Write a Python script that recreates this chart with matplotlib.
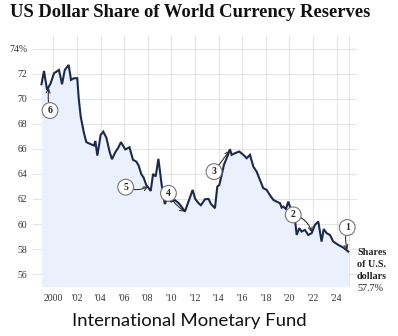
import matplotlib
matplotlib.use("Agg")
import matplotlib.pyplot as plt

# ---- data ----
years = [1999.0, 1999.21, 1999.47, 1999.78, 2000.06, 2000.48, 2000.74, 2000.97, 2001.30, 2001.50,
         2001.75, 2002.03, 2002.15, 2002.32, 2002.60, 2002.80, 2003.17, 2003.45, 2003.56, 2003.73,
         2004.01, 2004.23, 2004.49, 2004.78, 2004.97, 2005.25, 2005.48, 2005.73, 2006.10, 2006.45,
         2006.75, 2007.03, 2007.23, 2007.45, 2007.65, 2007.87, 2008.08, 2008.25, 2008.45, 2008.67,
         2008.90, 2009.18, 2009.44, 2009.60, 2010.00, 2010.30, 2010.58, 2010.80, 2011.15, 2011.52,
         2011.80, 2012.02, 2012.30, 2012.50, 2012.85, 2013.15, 2013.35, 2013.69, 2013.89, 2014.06,
         2014.26, 2014.45, 2014.68, 2014.96, 2015.10, 2015.38, 2015.75, 2016.09, 2016.38, 2016.66,
         2016.94, 2017.22, 2017.50, 2017.78, 2018.07, 2018.35, 2018.63, 2018.91, 2019.20, 2019.34,
         2019.48, 2019.70, 2019.90, 2020.04, 2020.47, 2020.61, 2020.83, 2021.03, 2021.31, 2021.59,
         2021.88, 2022.16, 2022.44, 2022.72, 2022.90, 2023.15, 2023.43, 2023.71, 2024.13, 2024.56,
         2024.98]
usd_share = [71.15, 72.21, 70.70, 71.23, 72.03, 72.29, 71.15, 72.29, 72.69, 71.50,
             71.63, 71.63, 70.04, 68.57, 67.24, 66.53, 66.37, 66.26, 66.63, 65.46,
             67.11, 67.37, 66.90, 65.73, 65.17, 65.73, 66.05, 66.53, 65.95, 66.12,
             65.12, 64.98, 64.66, 63.98, 63.70, 63.12, 62.86, 62.64, 64.00, 63.79,
             65.20, 63.10, 61.60, 61.90, 61.80, 61.90, 61.70, 61.45, 61.00, 61.98,
             62.72, 62.00, 61.66, 61.50, 61.98, 62.00, 61.60, 61.26, 62.99, 63.12,
             63.92, 64.72, 65.25, 65.97, 65.52, 65.65, 65.78, 65.52, 65.25, 65.52,
             64.58, 64.18, 63.52, 62.86, 62.72, 62.30, 61.93, 61.79, 61.66, 61.31,
             61.39, 61.20, 61.79, 61.39, 60.33, 59.13, 59.67, 59.40, 59.53, 59.13,
             59.27, 59.93, 60.20, 58.60, 59.60, 59.27, 59.13, 58.60, 58.34, 58.12,
             57.80]

x_ticks = [2000, 2002, 2004, 2006, 2008, 2010, 2012, 2014, 2016, 2018, 2020, 2022, 2024]
x_tick_labels = ["2000", "'02", "'04", "'06", "'08", "'10", "'12", "'14", "'16", "'18", "'20", "'22", "'24"]
y_ticks = [56, 58, 60, 62, 64, 66, 68, 70, 72, 74]
y_tick_labels = ["56", "58", "60", "62", "64", "66", "68", "70", "72", "74%"]

# annotations: label, point (year, value), circle centre (year, value)
ann_labels = ["6", "5", "4", "3", "2", "1"]
ann_points = [(1999.62, 70.85), (2008.02, 63.0), (2011.15, 61.0), (2014.92, 65.85), (2021.88, 59.35), (2024.9, 57.95)]
ann_circles = [(1999.72, 69.05), (2006.13, 62.94), (2009.75, 62.45), (2013.61, 64.18), (2020.32, 60.73), (2024.89, 59.72)]
ann_rads = [-0.1, 0.25, 0.15, 0.0, -0.3, 0.15]

serif = "Liberation Serif"
line_color = "#1c2a4a"
fill_color = "#eaf1fd"
grid_color = "#e4e4e4"

fig = plt.figure(figsize=(3.98, 3.36), dpi=100)
ax = fig.add_axes([0.0829, 0.1467, 0.8141, 0.7462])
ax.set_xlim(1998.28, 2025.72)
ax.set_ylim(55, 75)

ax.fill_between(years, usd_share, 55, color=fill_color, lw=0, zorder=1)
ax.plot(years, usd_share, color=line_color, lw=1.5, zorder=3, solid_joinstyle="miter")

ax.set_xticks(x_ticks)
ax.set_xticklabels(x_tick_labels)
ax.set_xticks([2025], minor=True)
ax.set_yticks(y_ticks)
ax.set_yticklabels(y_tick_labels)
ax.grid(True, which="both", color=grid_color, lw=0.8, zorder=0)
ax.set_axisbelow(True)
ax.tick_params(which="both", length=0)
ax.tick_params(axis="y", pad=4)
ax.tick_params(axis="x", pad=5)
for lab in ax.get_xticklabels() + ax.get_yticklabels():
    lab.set_fontfamily(serif)
    lab.set_fontsize(7)
    lab.set_color("#333333")
for s in ax.spines.values():
    s.set_visible(False)

for lab, pt, cc, rad in zip(ann_labels, ann_points, ann_circles, ann_rads):
    ax.annotate(lab, xy=pt, xytext=cc, textcoords="data", ha="center", va="center",
                fontsize=7, fontweight="bold", family=serif, color="#222222", zorder=6,
                bbox=dict(boxstyle="circle,pad=0.35", fc="white", ec="#777777", lw=0.8),
                arrowprops=dict(arrowstyle="->", color="#2a2a2a", lw=0.75,
                                mutation_scale=7, shrinkA=0, shrinkB=0,
                                connectionstyle=f"arc3,rad={rad}"))

# right-side label
for txt, yv, fw in [("Shares", 57.70, "bold"), ("of U.S.", 56.74, "bold"),
                    ("dollars", 55.81, "bold"), ("57.7%", 54.89, "normal")]:
    ax.text(2025.72, yv, txt, ha="left", va="center", fontsize=7.3, fontweight=fw,
            family=serif, color="#222222", clip_on=False)

fig.text(10 / 398, 1 - 12.5 / 336, "US Dollar Share of World Currency Reserves",
         ha="left", va="center", fontsize=13.4, fontweight="bold", family=serif, color="#111111")
fig.text(189.5 / 398, 1 - 321 / 336, "International Monetary Fund",
         ha="center", va="center", fontsize=13.3, family="Lato", color="#111111")

fig.savefig("out.png", dpi=100)
